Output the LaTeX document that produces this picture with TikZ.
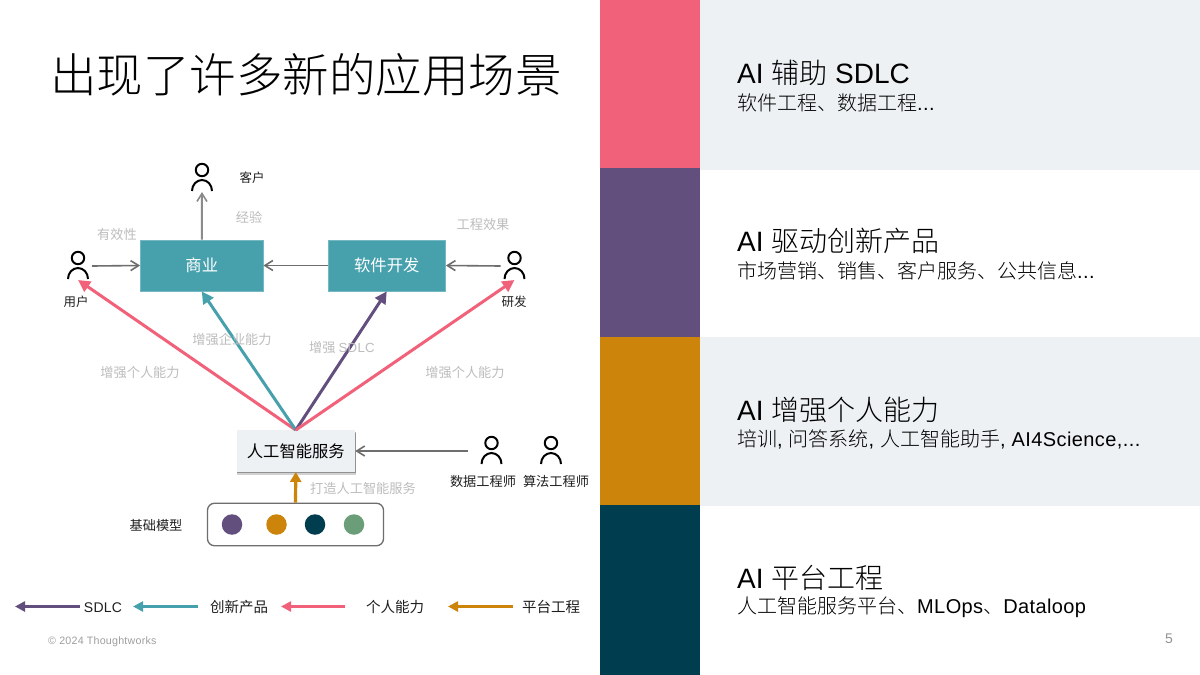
\documentclass[tikz,border=0pt]{standalone}
\usepackage{fontspec}
\setmainfont[LetterSpace=2]{Liberation Sans}
\newfontfamily\headlat{Liberation Sans}
\newfontfamily\cjk{Noto Sans CJK SC}
\newfontfamily\cjklight{Noto Sans CJK SC Light}
\usetikzlibrary{arrows.meta,shadows}
\definecolor{pinkc}{HTML}{F2617A}
\definecolor{purplec}{HTML}{634F7D}
\definecolor{ochrec}{HTML}{CC850A}
\definecolor{deepc}{HTML}{003D4F}
\definecolor{tealc}{HTML}{47A1AD}
\definecolor{greenc}{HTML}{6B9E78}
\definecolor{panelc}{HTML}{EDF1F3}
\definecolor{mutedc}{HTML}{BDBDBD}
\definecolor{linec}{HTML}{6E6E6E}
\definecolor{textc}{HTML}{1F1F1F}
\newcommand{\fs}[1]{\fontsize{#1pt}{#1pt}\selectfont}
\tikzset{
  x=1pt,y=-1pt,
  tx/.style={inner sep=0pt,outer sep=0pt,font=\cjk\fs{13.2}},
  muted/.style={tx,text=mutedc},
  darktx/.style={tx,text=textc},
  bizbox/.style={draw=tealc!75!white,line width=0.8pt,fill=tealc,text=white,font=\cjk\fs{16.3},inner sep=0pt},
  personbox/.style={minimum width=28pt,minimum height=28pt,inner sep=0pt,outer sep=0pt},
  thinarrow/.style={draw=linec,line width=1.6pt,-{Straight Barb[length=8pt,width=10pt,line width=1.6pt]}},
  dot/.style={circle,minimum size=20.5pt,inner sep=0pt},
  band/.style={inner sep=0pt,outer sep=0pt,minimum width=100pt},
  panel/.style={inner sep=0pt,outer sep=0pt,minimum width=500pt,fill=panelc},
  head/.style={anchor=west,inner sep=0pt,font=\headlat\fs{28},text=black},
  sub/.style={anchor=west,inner sep=0pt,font=\fs{20},text=black},
  boldarrow/.style args={#1}{draw=#1,line width=3pt,-{Triangle[length=12pt,width=12pt,fill=#1]}},
  legarrow/.style args={#1}{draw=#1,line width=3pt,-{Triangle[length=10pt,width=10pt,fill=#1]}},
  personicon/.pic={
    \draw[black,line width=2pt] (0,-8) circle[radius=6.2];
    \draw[black,line width=2pt] (-10,13) arc[start angle=180,end angle=0,x radius=10,y radius=-11];
  }
}
\begin{document}
\begin{tikzpicture}
\useasboundingbox (0,0) rectangle (1200,675);
\fill[white] (0,0) rectangle (1200,675);
% right bands
\node[panel,minimum height=170pt,anchor=north west] (p1) at (700,0) {};
\node[panel,minimum height=169pt,anchor=north west] (p3) at (700,337) {};
\node[band,fill=pinkc,minimum height=168pt,anchor=north west] (b1) at (600,0) {};
\node[band,fill=purplec,minimum height=169pt,anchor=north west] (b2) at (600,168) {};
\node[band,fill=ochrec,minimum height=168pt,anchor=north west] (b3) at (600,337) {};
\node[band,fill=deepc,minimum height=170pt,anchor=north west] (b4) at (600,505) {};
\node[head] (h1) at (737,73) {AI {\cjklight 辅助} SDLC};
\node[sub] (s1) at (737,103) {{\cjklight 软件工程、数据工程}...};
\node[head] (h2) at (737,241) {AI {\cjklight 驱动创新产品}};
\node[sub] (s2) at (737,271) {{\cjklight 市场营销、销售、客户服务、公共信息}...};
\node[head] (h3) at (737,410) {AI {\cjklight 增强个人能力}};
\node[sub] (s3) at (737,439) {{\cjklight 培训}, {\cjklight 问答系统}, {\cjklight 人工智能助手}, AI4Science,...};
\node[head] (h4) at (737,578) {AI {\cjklight 平台工程}};
\node[sub] (s4) at (737,607) {{\cjklight 人工智能服务平台、}MLOps{\cjklight 、}Dataloop};
% title
\node[anchor=west,inner sep=0pt,font=\cjklight\fs{46.5},text=black] (title) at (50,75) {出现了许多新的应用场景};
% boxes
\node[bizbox,minimum width=122.5pt,minimum height=51pt] (biz) at (201.75,265.5) {商业};
\node[bizbox,minimum width=117.5pt,minimum height=51pt] (soft) at (386.75,265.5) {软件开发};
\node[draw=none,fill=panelc,general shadow={shadow xshift=0.5pt,shadow yshift=-3pt,opacity=.18,fill=black},general shadow={shadow xshift=0.5pt,shadow yshift=-1.5pt,opacity=.3,fill=black},minimum width=118.5pt,minimum height=41.5pt,inner sep=0pt,font=\cjk\fs{16.3},text=black] (svc) at (295.8,451) {人工智能服务};
\node[draw=linec,line width=1.3pt,rounded corners=7pt,minimum width=176pt,minimum height=42.5pt,inner sep=0pt] (model) at (295.5,524.5) {};
\node[dot,fill=purplec] (d1) at (232,524.5) {};
\node[dot,fill=ochrec] (d2) at (276.5,524.5) {};
\node[dot,fill=deepc] (d3) at (315,524.5) {};
\node[dot,fill=greenc] (d4) at (354,524.5) {};
% people
\node[personbox] (client) at (202,178) {}; \pic at (client) {personicon};
\node[personbox] (user) at (78,266) {}; \pic at (user) {personicon};
\node[personbox] (res) at (514.5,266) {}; \pic at (res) {personicon};
\node[personbox] (de) at (491.5,451) {}; \pic at (de) {personicon};
\node[personbox] (ae) at (551,451) {}; \pic at (ae) {personicon};
% thin connectors
\draw[thinarrow,draw=linec!80!white,line width=2pt] (biz.north) -- (client.south);
\draw[thinarrow] (user.east) -- (biz.west);
\draw[thinarrow] (soft.west) -- (biz.east);
\draw[thinarrow] (res.west) -- (soft.east);
\draw[thinarrow,shorten <=9.5pt] (de.west) -- (svc.east);
% coloured connectors
\draw[boldarrow=pinkc] (svc.north) -- (user.south);
\draw[boldarrow=tealc] (svc.north) -- (biz.south);
\draw[boldarrow=purplec] (svc.north) -- (soft.south);
\draw[boldarrow=pinkc] (svc.north) -- (res.south);
\draw[draw=ochrec,line width=3.2pt,-{Triangle[length=10pt,width=11pt,fill=ochrec]}] (model.north) -- (svc.south);
% labels
\node[muted] (l1) at (117,234) {有效性};
\node[muted] (l2) at (249,217) {经验};
\node[muted] (l3) at (483,224) {工程效果};
\node[muted] (l4) at (232,339) {增强企业能力};
\node[muted] (l5) at (342,348) {增强 {\fontspec[LetterSpace=2.5]{Liberation Sans}SDLC}};
\node[muted] (l6) at (140,373) {增强个人能力};
\node[muted] (l7) at (465,373) {增强个人能力};
\node[muted] (l8) at (363,488) {打造人工智能服务};
\node[darktx,font=\cjk\fs{12.5}] (n1) at (252,178) {客户};
\node[darktx,font=\cjk\fs{12.5}] (n2) at (76,302) {用户};
\node[darktx,font=\cjk\fs{12.5}] (n3) at (514,302) {研发};
\node[darktx] (n4) at (483,481.5) {数据工程师};
\node[darktx] (n5) at (556,481.5) {算法工程师};
\node[darktx] (n6) at (156,525) {基础模型};
% legend
\coordinate (ls1) at (80,606.5); \coordinate (le1) at (15,606.5);
\coordinate (ls2) at (198,606.5); \coordinate (le2) at (133,606.5);
\coordinate (ls3) at (345,606.5); \coordinate (le3) at (281,606.5);
\coordinate (ls4) at (513,606.5); \coordinate (le4) at (448,606.5);
\draw[legarrow=purplec] (ls1) -- (le1);
\draw[legarrow=tealc] (ls2) -- (le2);
\draw[legarrow=pinkc] (ls3) -- (le3);
\draw[legarrow=ochrec] (ls4) -- (le4);
\node[darktx,font=\fs{14}] (t1) at (103,607.5) {SDLC};
\node[darktx,font=\cjk\fs{14.5}] (t2) at (239,607) {创新产品};
\node[darktx,font=\cjk\fs{14.5}] (t3) at (395,607) {个人能力};
\node[darktx,font=\cjk\fs{14.5}] (t4) at (551,607) {平台工程};
% footer
\node[anchor=west,inner sep=0pt,text=gray!75,font=\fs{10.7}] (foot) at (48,641.5) {© 2024 Thoughtworks};
\node[inner sep=0pt,text=gray!85,font=\fs{14}] (page) at (1169,638.5) {5};
\end{tikzpicture}
\end{document}
